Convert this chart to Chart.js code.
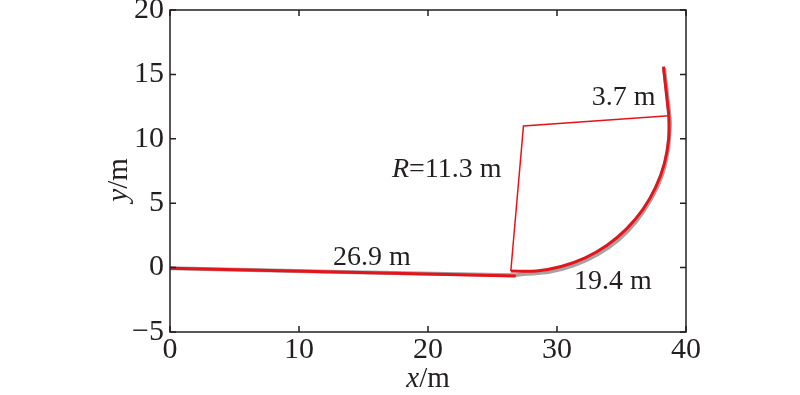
<!DOCTYPE html>
<html>
<head>
<meta charset="utf-8">
<script src="https://cdn.jsdelivr.net/npm/chart.js@4.4.1/dist/chart.umd.min.js"></script>
<style>
  html, body { margin: 0; padding: 0; background: #fff; }
  #wrap { width: 800px; height: 395px; }
</style>
</head>
<body>
<div id="wrap"><canvas id="chart"></canvas></div>
<script>
// straight approach line (red fit)
const lineX = [0, 26.8];
const lineY = [-0.05, -0.65];

// circular arc (red fit)
const arcX = [26.42, 28.39, 30.32, 32.18, 33.88, 35.39, 36.66, 37.64, 38.32, 38.66, 38.67];
const arcY = [-0.26, -0.26, 0.09, 0.76, 1.74, 3.01, 4.52, 6.22, 8.08, 10.01, 11.79];

// radius construction lines
const radiusX = [26.42, 27.4, 38.67];
const radiusY = [-0.26, 11.0, 11.79];

// exit straight
const exitX = [38.67, 38.25];
const exitY = [11.79, 15.6];

// measured track (grey, underneath)
const trackX = [0, 26.6, 27.4, 29.40, 31.33, 33.15, 34.79, 36.17, 37.27, 38.11, 38.58, 38.75, 38.72, 38.3];
const trackY = [-0.05, -0.6, -0.5, -0.33, 0.19, 1.04, 2.19, 3.64, 5.30, 7.10, 9.03, 11.0, 11.79, 15.5];

// axis ticks
const xTicks = [0, 10, 20, 30, 40];
const yTicks = [-5, 0, 5, 10, 15, 20];

// annotations
const noteText = ['26.9 m', '19.4 m', '3.7 m'];
const noteX = [15.66, 34.34, 35.16];
const noteY = [0.2, -1.66, 12.62];
const radiusNote = { x: 17.2, y: 7.03, text: '=11.3 m' };

const ink = '#231f20';
const red = '#e5141b';
const serif = '"Liberation Serif", "Times New Roman", serif';

const pts = (xs, ys) => xs.map((x, i) => ({ x: x, y: ys[i] }));

const frame = {
    id: 'frame',
    afterDraw(chart) {
        const ctx = chart.ctx;
        const a = chart.chartArea;
        const sx = chart.scales.x, sy = chart.scales.y;
        ctx.save();
        ctx.strokeStyle = ink;
        ctx.lineWidth = 1.5;
        ctx.strokeRect(a.left, a.top, a.right - a.left, a.bottom - a.top);
        ctx.beginPath();
        xTicks.forEach(v => {
            const px = sx.getPixelForValue(v);
            ctx.moveTo(px, a.bottom); ctx.lineTo(px, a.bottom - 6);
            ctx.moveTo(px, a.top); ctx.lineTo(px, a.top + 6);
        });
        yTicks.forEach(v => {
            const py = sy.getPixelForValue(v);
            ctx.moveTo(a.left, py); ctx.lineTo(a.left + 6, py);
            ctx.moveTo(a.right, py); ctx.lineTo(a.right - 6, py);
        });
        ctx.stroke();

        ctx.fillStyle = ink;
        ctx.textBaseline = 'alphabetic';
        ctx.font = '28px ' + serif;
        ctx.textAlign = 'center';
        for (let i = 0; i < noteText.length; i++) {
            ctx.fillText(noteText[i], sx.getPixelForValue(noteX[i]), sy.getPixelForValue(noteY[i]));
        }
        // R=11.3 m with italic R
        ctx.textAlign = 'left';
        let rx = sx.getPixelForValue(radiusNote.x);
        const ry = sy.getPixelForValue(radiusNote.y);
        ctx.font = 'italic 28px ' + serif;
        ctx.fillText('R', rx, ry);
        rx += ctx.measureText('R').width;
        ctx.font = '28px ' + serif;
        ctx.fillText(radiusNote.text, rx, ry);

        // x axis title
        ctx.font = 'italic 29px ' + serif;
        const wx = ctx.measureText('x').width;
        ctx.font = '29px ' + serif;
        const wm = ctx.measureText('/m').width;
        let tx = (a.left + a.right) / 2 - (wx + wm) / 2;
        ctx.font = 'italic 29px ' + serif;
        ctx.fillText('x', tx, 387);
        ctx.font = '29px ' + serif;
        ctx.fillText('/m', tx + wx, 387);

        // y axis title
        ctx.translate(127, 180);
        ctx.rotate(-Math.PI / 2);
        ctx.font = 'italic 29px ' + serif;
        const wy = ctx.measureText('y').width;
        tx = -(wy + wm) / 2;
        ctx.fillText('y', tx, 0);
        ctx.font = '29px ' + serif;
        ctx.fillText('/m', tx + wy, 0);
        ctx.restore();
    }
};

const tickFont = { family: serif, size: 30 };
const minus = v => (v < 0 ? '\u2212' + Math.abs(v) : String(v));

new Chart(document.getElementById('chart'), {
    type: 'scatter',
    data: {
        datasets: [
            { data: pts(trackX, trackY), showLine: true, borderColor: '#a3a3a3', borderWidth: 4, pointRadius: 0, tension: 0.3, order: 5 },
            { data: pts(lineX, lineY), showLine: true, borderColor: red, borderWidth: 3, pointRadius: 0, order: 1 },
            { data: pts(arcX, arcY), showLine: true, borderColor: red, borderWidth: 3, pointRadius: 0, tension: 0.4, order: 1 },
            { data: pts(radiusX, radiusY), showLine: true, borderColor: red, borderWidth: 1.5, pointRadius: 0, order: 1 },
            { data: pts(exitX, exitY), showLine: true, borderColor: red, borderWidth: 3, pointRadius: 0, order: 1 }
        ]
    },
    options: {
        responsive: true,
        maintainAspectRatio: false,
        animation: false,
        layout: { padding: { top: 10, right: 114, left: 0, bottom: 0 } },
        plugins: { legend: { display: false }, tooltip: { enabled: false } },
        scales: {
            x: {
                type: 'linear', min: 0, max: 40,
                afterBuildTicks: s => { s.ticks = xTicks.map(v => ({ value: v })); },
                afterFit: s => { s.height = 63; s.paddingLeft = 0; s.paddingRight = 0; },
                grid: { display: false, drawTicks: false },
                border: { display: false },
                ticks: { font: tickFont, color: ink, padding: 0, maxRotation: 0, callback: minus }
            },
            y: {
                type: 'linear', min: -5, max: 20,
                afterBuildTicks: s => { s.ticks = yTicks.map(v => ({ value: v })); },
                afterFit: s => { s.width = 170; s.paddingTop = 0; s.paddingBottom = 0; },
                grid: { display: false, drawTicks: false },
                border: { display: false },
                ticks: { font: tickFont, color: ink, padding: 6, callback: minus }
            }
        }
    },
    plugins: [frame]
});
</script>
</body>
</html>
